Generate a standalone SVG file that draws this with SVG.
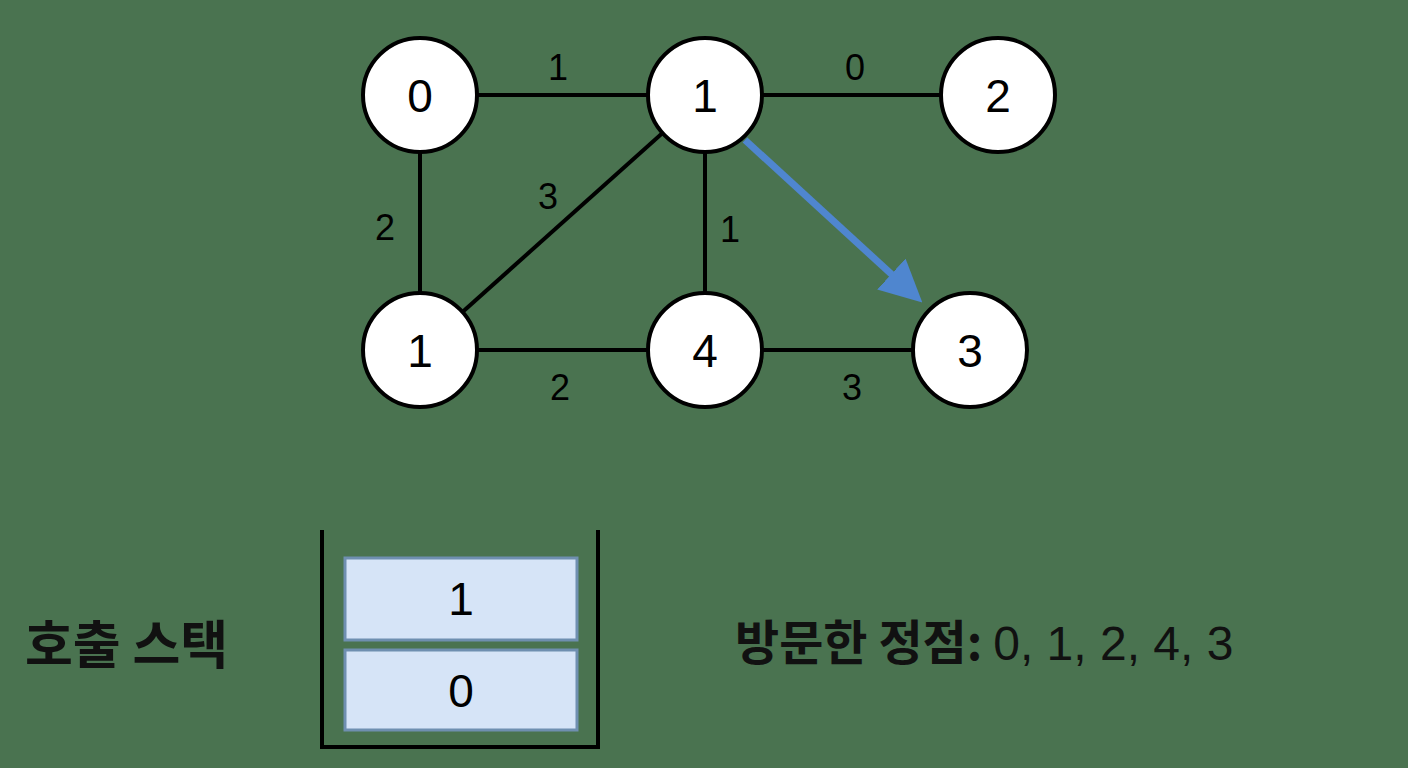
<svg xmlns="http://www.w3.org/2000/svg" width="1408" height="768" viewBox="0 0 1408 768">
<style>
.n{fill:#fff;stroke:#000;stroke-width:4}
.nt{font-family:"Liberation Sans",Arial,sans-serif;font-size:46px;text-anchor:middle;fill:#000}
.e{stroke:#000;stroke-width:4;fill:none}
.el{font-family:"Liberation Sans",Arial,sans-serif;font-size:36px;text-anchor:middle;fill:#000}
.box{fill:#d6e4f7;stroke:#6f8fb0;stroke-width:3}
.k{font-family:"Noto Sans CJK KR","Liberation Sans",sans-serif;font-weight:bold;fill:#111}
</style>
<defs><marker id="ah" markerWidth="6" markerHeight="6" refX="4" refY="3" orient="auto" markerUnits="strokeWidth"><path d="M0,0 L6,3 L0,6 Z" fill="#4f86cf"/></marker></defs>
<rect width="1408" height="768" fill="#4a7350"/>
<g id="connectors">
<line class="e" x1="420" y1="95" x2="705" y2="95"/>
<line class="e" x1="705" y1="95" x2="998" y2="95"/>
<line class="e" x1="420" y1="95" x2="420" y2="350"/>
<line class="e" x1="420" y1="350" x2="705" y2="95"/>
<line class="e" x1="705" y1="95" x2="705" y2="350"/>
<line class="e" x1="420" y1="350" x2="705" y2="350"/>
<line class="e" x1="705" y1="350" x2="970" y2="350"/>
<text class="el" x="558" y="80">1</text>
<text class="el" x="855" y="80">0</text>
<text class="el" x="385" y="240">2</text>
<text class="el" x="548" y="209">3</text>
<text class="el" x="730" y="242">1</text>
<text class="el" x="560" y="400">2</text>
<text class="el" x="852" y="400">3</text>
<line x1="745" y1="140" x2="912" y2="293" stroke="#4f86cf" stroke-width="7" marker-end="url(#ah)"/>
</g>
<g id="n0"><circle class="n" cx="420" cy="95" r="57"/><text class="nt" x="420" y="112">0</text></g>
<g id="n1"><circle class="n" cx="705" cy="95" r="57"/><text class="nt" x="705" y="112">1</text></g>
<g id="n2"><circle class="n" cx="998" cy="95" r="57"/><text class="nt" x="998" y="112">2</text></g>
<g id="n1b"><circle class="n" cx="420" cy="350" r="57"/><text class="nt" x="420" y="367">1</text></g>
<g id="n4"><circle class="n" cx="705" cy="350" r="57"/><text class="nt" x="705" y="367">4</text></g>
<g id="n3"><circle class="n" cx="970" cy="350" r="57"/><text class="nt" x="970" y="367">3</text></g>
<g id="stack">
<path d="M322,530 V747 H598 V530" class="e" stroke-width="5"/>
<rect class="box" x="345" y="558" width="232" height="82"/>
<text class="nt" x="461" y="615">1</text>
<rect class="box" x="345" y="650" width="232" height="80"/>
<text class="nt" x="461" y="707">0</text>
</g>
<text class="k" x="25" y="664" font-size="52">호출 스택</text>
<text class="k" x="735" y="660" font-size="48">방문한 정점: <tspan font-family="Liberation Sans,Arial,sans-serif" font-weight="normal">0, 1, 2, 4, 3</tspan></text>
</svg>
